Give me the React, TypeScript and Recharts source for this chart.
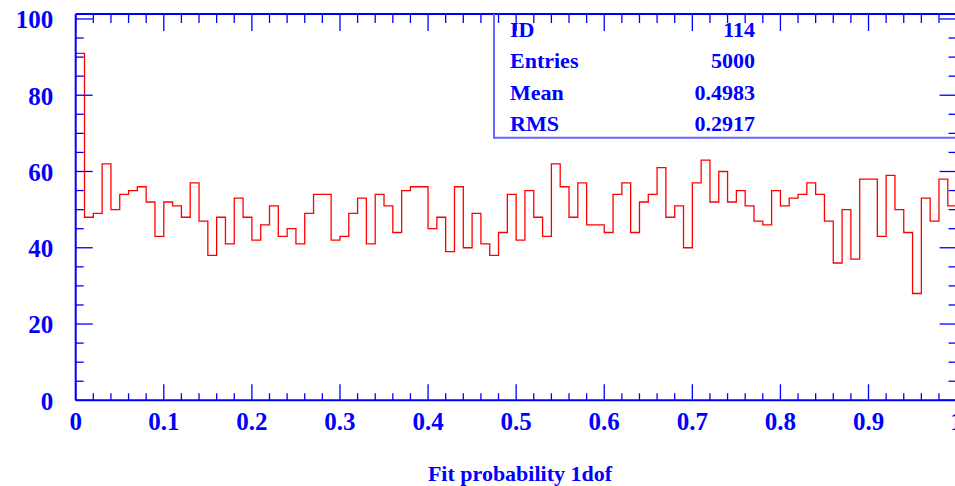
import React from 'react';
import { Line, LineChart, XAxis, YAxis } from 'recharts';

// histogram contents, 100 bins on [0, 1]
const counts = [
  91, 48, 49, 62, 50, 54, 55, 56, 52, 43,
  52, 51, 48, 57, 47, 38, 48, 41, 53, 48,
  42, 46, 51, 43, 45, 41, 49, 54, 54, 42,
  43, 49, 53, 41, 54, 51, 44, 55, 56, 56,
  45, 48, 39, 56, 40, 49, 41, 38, 44, 54,
  42, 55, 48, 43, 62, 56, 48, 57, 46, 46,
  44, 54, 57, 44, 52, 54, 61, 48, 51, 40,
  57, 63, 52, 60, 52, 55, 51, 47, 46, 55,
  51, 53, 54, 57, 54, 47, 36, 50, 37, 58,
  58, 43, 59, 50, 44, 28, 53, 47, 58, 51,
];
const xMin = 0;
const xMax = 1;
const yMax = 101.3;

const xLabelTicks = [0, 0.1, 0.2, 0.3, 0.4, 0.5, 0.6, 0.7, 0.8, 0.9, 1];
const xTickLabels = ['0', '0.1', '0.2', '0.3', '0.4', '0.5', '0.6', '0.7', '0.8', '0.9', '1'];
const yLabelTicks = [0, 20, 40, 60, 80, 100];
const yTickLabels = ['0', '20', '40', '60', '80', '100'];
const xMinorStep = 0.02;
const yMinorStep = 5;

const statNames = ['ID', 'Entries', 'Mean', 'RMS'];
const statValues = ['114', '5000', '0.4983', '0.2917'];
const xTitle = 'Fit probability 1dof';

const BLUE = '#0000ff';
const BOX_BLUE = '#6666ff';
const RED = '#ff0000';
const FONT = '"Liberation Serif", "Times New Roman", serif';

const W = 955;
const H = 486;
const CHART_W = 990;
const PLOT_LEFT = 75.7;
const PLOT_TOP = 14;
const PLOT_RIGHT = 956.6;
const PLOT_BOTTOM = 400.3;

const binWidth = (xMax - xMin) / counts.length;
const data = counts
  .map((c, i) => ({ x: xMin + i * binWidth, count: c }))
  .concat([{ x: xMax, count: counts[counts.length - 1] }]);

const xTicks = Array.from(
  { length: Math.round((xMax - xMin) / xMinorStep) + 1 },
  (_, i) => +(xMin + i * xMinorStep).toFixed(4),
);
const yTicks = Array.from({ length: Math.floor(100 / yMinorStep) + 1 }, (_, i) => i * yMinorStep);

function labelFor(v: number, ticks: number[], labels: string[]) {
  const k = ticks.findIndex((t) => Math.abs(t - v) < 1e-6);
  return k >= 0 ? labels[k] : null;
}

const textStyle = { fontFamily: FONT, fontWeight: 700, fill: BLUE } as const;

const BottomTick = ({ x, y, payload }: any) => {
  const lab = labelFor(payload.value, xLabelTicks, xTickLabels);
  return (
    <g>
      <line x1={x} x2={x} y1={y} y2={y - (lab ? 16 : 7)} stroke={BLUE} strokeWidth={1.3} />
      {lab && (
        <text x={x} y={y + 29.7} textAnchor="middle" fontSize={25} style={textStyle}>
          {lab}
        </text>
      )}
    </g>
  );
};

const TopTick = ({ x, y, payload }: any) => {
  const lab = labelFor(payload.value, xLabelTicks, xTickLabels);
  return <line x1={x} x2={x} y1={y} y2={y + (lab ? 17 : 9)} stroke={BLUE} strokeWidth={1.3} />;
};

const LeftTick = ({ x, y, payload }: any) => {
  const lab = labelFor(payload.value, yLabelTicks, yTickLabels);
  return (
    <g>
      <line x1={x} x2={x + (lab ? 17 : 8)} y1={y} y2={y} stroke={BLUE} strokeWidth={1.3} />
      {lab && (
        <text x={x - 22.4} y={y + 9.3} textAnchor="end" fontSize={25} style={textStyle}>
          {lab}
        </text>
      )}
    </g>
  );
};

const RightTick = ({ x, y, payload }: any) => {
  const lab = labelFor(payload.value, yLabelTicks, yTickLabels);
  return <line x1={x} x2={x - (lab ? 17 : 8)} y1={y} y2={y} stroke={BLUE} strokeWidth={1.3} />;
};

const axisLine = { stroke: BLUE, strokeWidth: 2 };

export default function App() {
  return (
    <div style={{ position: 'relative', width: W, height: H, overflow: 'hidden', background: '#fff' }}>
      <style>{'body{margin:0;overflow:hidden;background:#fff}'}</style>
      <LineChart
        width={CHART_W}
        height={H}
        data={data}
        margin={{ top: PLOT_TOP - 1, right: CHART_W - PLOT_RIGHT - 1, bottom: 0, left: 0 }}
      >
        <XAxis
          xAxisId="bottom"
          dataKey="x"
          type="number"
          domain={[xMin, xMax]}
          allowDataOverflow
          ticks={xTicks}
          interval={0}
          height={H - PLOT_BOTTOM}
          tickSize={0}
          tickMargin={0}
          tickLine={false}
          tick={<BottomTick />}
          axisLine={axisLine}
        />
        <XAxis
          xAxisId="top"
          orientation="top"
          dataKey="x"
          type="number"
          domain={[xMin, xMax]}
          allowDataOverflow
          ticks={xTicks}
          interval={0}
          height={1}
          tickSize={0}
          tickMargin={0}
          tickLine={false}
          tick={<TopTick />}
          axisLine={axisLine}
        />
        <YAxis
          yAxisId="left"
          type="number"
          domain={[0, yMax]}
          allowDataOverflow
          ticks={yTicks}
          interval={0}
          width={PLOT_LEFT}
          tickSize={0}
          tickMargin={0}
          tickLine={false}
          tick={<LeftTick />}
          axisLine={axisLine}
        />
        <YAxis
          yAxisId="right"
          orientation="right"
          type="number"
          domain={[0, yMax]}
          allowDataOverflow
          ticks={yTicks}
          interval={0}
          width={1}
          tickSize={0}
          tickMargin={0}
          tickLine={false}
          tick={<RightTick />}
          axisLine={axisLine}
        />
        {/* invisible copy so the top/right frame axes have a series */}
        <Line
          xAxisId="top"
          yAxisId="right"
          type="stepAfter"
          dataKey="count"
          stroke="none"
          dot={false}
          activeDot={false}
          legendType="none"
          isAnimationActive={false}
        />
        <Line
          xAxisId="bottom"
          yAxisId="left"
          type="stepAfter"
          dataKey="count"
          stroke={RED}
          strokeWidth={1.3}
          dot={false}
          activeDot={false}
          isAnimationActive={false}
        />
      </LineChart>

      <svg
        width={W}
        height={H}
        style={{ position: 'absolute', left: 0, top: 0, pointerEvents: 'none' }}
      >
        <path d={`M494,${PLOT_TOP} V137.7 H${W + 5}`} fill="none" stroke={BOX_BLUE} strokeWidth={2} />
        {statNames.map((name, i) => (
          <g key={name}>
            <text x={510} y={37.3 + i * 31.1} fontSize={22} style={textStyle}>
              {name}
            </text>
            <text x={755} y={37.3 + i * 31.1} fontSize={22} textAnchor="end" style={textStyle}>
              {statValues[i]}
            </text>
          </g>
        ))}
        <text x={520} y={480.7} fontSize={22} textAnchor="middle" style={textStyle}>
          {xTitle}
        </text>
      </svg>
    </div>
  );
}
